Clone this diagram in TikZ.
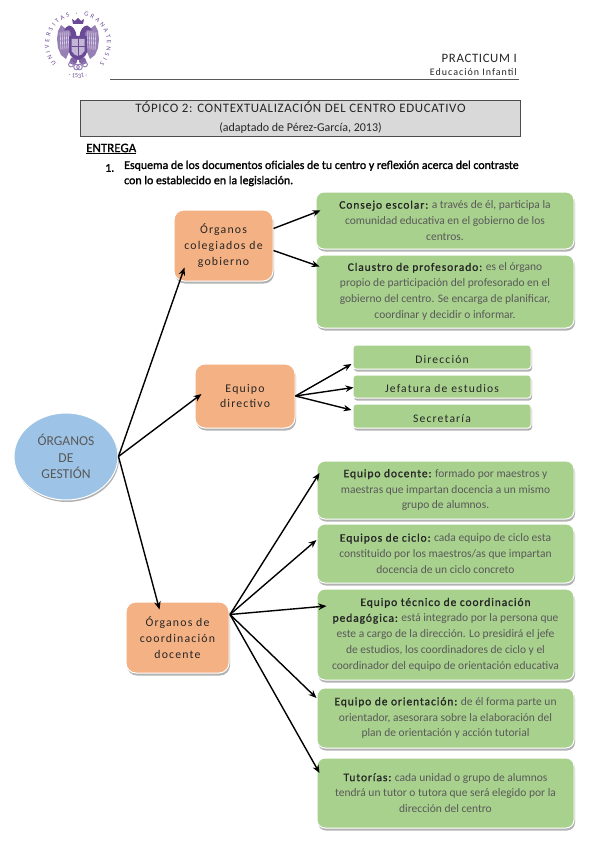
\documentclass[tikz,border=0pt]{standalone}
\usepackage{fontspec}
\setmainfont{Carlito}
\newfontfamily\headf[LetterSpace=10]{Carlito}
\newfontfamily\boldf[LetterSpace=8,FakeBold=1]{Carlito}
\newfontfamily\capsf[LetterSpace=5]{Carlito}
\usetikzlibrary{shadows,arrows.meta,calc,decorations.text,shapes.geometric}
\definecolor{greenfill}{HTML}{A9D18E}
\definecolor{orangefill}{HTML}{F4B183}
\definecolor{bluefill}{HTML}{9DC3E6}
\definecolor{bodytext}{HTML}{595959}
\definecolor{headtext}{HTML}{262626}
\definecolor{crest}{HTML}{6A4A96}
\definecolor{topicfill}{HTML}{D9D9D9}
\newcommand{\hd}[1]{{\boldf\color{headtext}#1}}
\tikzset{
  softbox/.style={draw=white,line width=1pt,align=center,inner sep=0pt,
    drop shadow={shadow xshift=1pt,shadow yshift=-2.5pt,fill=black,opacity=0.3}},
  greenbox/.style={softbox,fill=greenfill,rounded corners=8pt,text=bodytext,font=\fontsize{11.5}{15.8}\selectfont,
    execute at begin node={\rule{0pt}{17pt}}},
  slimbox/.style={softbox,fill=greenfill,rounded corners=3pt,text=headtext,font=\headf\fontsize{11.6}{13}\selectfont,
    execute at begin node={\rule{0pt}{12.5pt}}},
  orangebox/.style={softbox,fill=orangefill,rounded corners=10pt,text=headtext,font=\headf\fontsize{11.8}{15.8}\selectfont},
  hub/.style={ellipse,draw=white,line width=1pt,fill=bluefill,text=bodytext,align=center,inner sep=0pt,
    font=\fontsize{13.6}{16.2}\selectfont,drop shadow={shadow xshift=1pt,shadow yshift=-2pt,fill=black,opacity=0.3}},
  arr/.style={-{Stealth[length=8pt,width=6.5pt]},line width=1.4pt,black},
}
\begin{document}
\begin{tikzpicture}[x=1pt,y=-1pt]
\useasboundingbox (0,0) rectangle (599,848);
% crest
\begin{scope}[shift={(78,44)},x=1pt,y=1pt]
  \path[decorate,decoration={text along path,text align=fit to path,
      text={|\fontsize{6.4}{7}\selectfont\color{crest}|UNIVERSITAS · GRANATENSIS}}]
     (222:29) arc[start angle=222,end angle=-42,radius=29];
  \path[decorate,decoration={text along path,text align=center,
      text={|\fontsize{6.4}{7}\selectfont\color{crest}|· 1531 ·}}]
     (245:34) arc[start angle=245,end angle=295,radius=34];
  \foreach \s in {1,-1}{
    \begin{scope}[xscale=\s]
      % wing
      \fill[crest!70] (4,12) -- (12,15) -- (17,19) -- (20,13) -- (21,5) -- (20,-4) -- (17,-11) -- (12,-15) -- (9,-8) -- (4,-6) -- cycle;
      % neck and head
      \fill[crest] (1,0) -- (1.5,8) .. controls (2,14) and (5,18) .. (9,18.5) .. controls (11,18) and (13,16) .. (14,13.5)
        -- (9,14) .. controls (6,12) and (7,5) .. (8,0) -- cycle;
      % feathers
      \foreach \a in {0,...,4}{\draw[white,line width=.35pt] (10+\a*2,13-\a*.2) -- (9+\a*2,-5-\a*.3);}
      % tail/legs
      \fill[crest!85] (1,-12) -- (7,-14) -- (9,-19) -- (4,-21) -- (1,-18) -- cycle;
      \draw[crest!70,line width=1pt] (1.5,-23) circle[radius=2.8];
      \draw[crest!70,line width=1pt] (7,-20.5) circle[radius=2.4];
    \end{scope}
  }
  % body, shield, crown
  \fill[crest] (-9,8) -- (9,8) -- (9,-8) .. controls (8,-13) and (3,-15) .. (0,-16) .. controls (-3,-15) and (-8,-13) .. (-9,-8) -- cycle;
  \fill[crest!40] (-6.5,5) -- (6.5,5) -- (6.5,-7) .. controls (5,-10) and (2,-12) .. (0,-12) .. controls (-2,-12) and (-5,-10) .. (-6.5,-7) -- cycle;
  \draw[crest,line width=.5pt] (0,5) -- (0,-12) (-6.5,-2) -- (6.5,-2);
  \fill[crest] (-5,20) -- (-6,25) -- (-3,23) -- (0,26) -- (3,23) -- (6,25) -- (5,20) -- cycle;
\end{scope}
% header
\node[inner sep=0pt,anchor=east,text=headtext,font=\capsf\fontsize{12.8}{14}\selectfont] (practicum) at (517,58) {PRACTICUM I};
\node[inner sep=0pt,anchor=east,text=headtext,font=\headf\fontsize{10}{12}\selectfont] (grado) at (517,72.5) {Educación Infantil};
\draw[line width=1pt,black!65] (110,79.5) -- (519,79.5);
\node[draw=black!70,line width=.8pt,fill=topicfill,minimum width=440,minimum height=36,inner sep=0pt] (topicbox) at (300.5,118) {};
\node[inner sep=0pt,text=headtext,font=\capsf\fontsize{12.9}{14}\selectfont] (topic) at (300.5,107.5) {TÓPICO 2: CONTEXTUALIZACIÓN DEL CENTRO EDUCATIVO};
\node[inner sep=0pt,text=headtext,font=\fontsize{12}{14}\selectfont] (adapt) at (300.5,128) {(adaptado de Pérez-García, 2013)};
\node[inner sep=0pt,anchor=west,font=\fontsize{13}{15}\selectfont\addfontfeature{FakeBold=1}] (entrega) at (86,149) {\underline{ENTREGA}};
\node[inner sep=0pt,anchor=west,font=\fontsize{11.9}{14}\selectfont\addfontfeature{FakeBold=1.5}] (itemno) at (105,168) {1.};
\node[inner sep=0pt,anchor=north west,align=left,font=\fontsize{11.9}{15.2}\selectfont\addfontfeature{FakeBold=1.5}] (item) at (124,160.5) {Esquema de los documentos oficiales de tu centro y reflexión acerca del contraste\\con lo establecido en la legislación.};
% hub
\node[hub,minimum width=104,minimum height=87] (hubn) at (66,456.5) {ÓRGANOS\\DE\\GESTIÓN};
% orange
\node[orangebox,minimum width=99,minimum height=71] (colegiados) at (223.5,245.5) {Órganos\\colegiados de\\gobierno};
\node[orangebox,minimum width=100,minimum height=64] (directivo) at (245,396) {Equipo\\directivo};
\node[orangebox,minimum width=103,minimum height=71] (coordinacion) at (177.5,637.5) {Órganos de\\coordinación\\docente};
% green
\node[greenbox,minimum width=258,minimum height=57] (consejo) at (445,220.5) {\hd{Consejo escolar:} a través de él, participa la\\comunidad educativa en el gobierno de los\\centros.};
\node[greenbox,minimum width=258,minimum height=73] (claustro) at (445,291.5) {\hd{Claustro de profesorado:} es el órgano\\propio de participación del profesorado en el\\gobierno del centro. Se encarga de planificar,\\coordinar y decidir o informar.};
\node[slimbox,minimum width=178,minimum height=24] (direccion) at (442,357) {Dirección};
\node[slimbox,minimum width=178,minimum height=23] (jefatura) at (442,386.5) {Jefatura de estudios};
\node[slimbox,minimum width=178,minimum height=24] (secretaria) at (442,416) {Secretaría};
\node[greenbox,minimum width=257,minimum height=58] (docente) at (445.5,490) {\hd{Equipo docente:} formado por maestros y\\maestras que impartan docencia a un mismo\\grupo de alumnos.};
\node[greenbox,minimum width=257,minimum height=59] (ciclo) at (445.5,553.5) {\hd{Equipos de ciclo:} cada equipo de ciclo esta\\constituido por los maestros/as que impartan\\docencia de un ciclo concreto};
\node[greenbox,minimum width=257,minimum height=91] (tecnico) at (445.5,634.5) {\hd{Equipo técnico de coordinación}\\\hd{pedagógica:} está integrado por la persona que\\este a cargo de la dirección. Lo presidirá el jefe\\de estudios, los coordinadores de ciclo y el\\coordinador del equipo de orientación educativa};
\node[greenbox,minimum width=257,minimum height=60] (orientacion) at (445.5,718) {\hd{Equipo de orientación:} de él forma parte un\\orientador, asesorara sobre la elaboración del\\plan de orientación y acción tutorial};
\node[greenbox,minimum width=257,minimum height=70] (tutorias) at (445.5,793) {\hd{Tutorías:} cada unidad o grupo de alumnos\\tendrá un tutor o tutora que será elegido por la\\dirección del centro};
% connectors
\coordinate (hubout) at (hubn.east);
\draw[arr] (hubout) -- ($(colegiados.south west)+(11,-14)$);
\draw[arr] (hubout) -- ($(directivo.west)+(7,-2)$);
\draw[arr] (hubout) -- ($(coordinacion.north west)+(34,8)$);
\draw[arr] ($(colegiados.east)+(0,-17)$) -- ($(consejo.west)+(5,-10)$);
\draw[arr] ($(colegiados.east)+(0,5)$) -- ($(claustro.west)+(4,-25)$);
\coordinate (dirout) at (directivo.east);
\draw[arr] (dirout) -- ($(direccion.west)+(-1,7)$);
\draw[arr] (dirout) -- ($(jefatura.west)+(1,1)$);
\draw[arr] (dirout) -- ($(secretaria.west)+(-1,-6)$);
\coordinate (coordout) at ($(coordinacion.east)+(0.5,-23)$);
\draw[arr] (coordout) -- ($(docente.west)+(3,-17)$);
\draw[arr] (coordout) -- ($(ciclo.west)+(0,-13.5)$);
\draw[arr] (coordout) -- ($(tecnico.west)+(10,-28.5)$);
\draw[arr] (coordout) -- ($(orientacion.west)+(0,-20)$);
\draw[arr] (coordout) -- ($(tutorias.west)+(3,-20)$);
\end{tikzpicture}
\end{document}
